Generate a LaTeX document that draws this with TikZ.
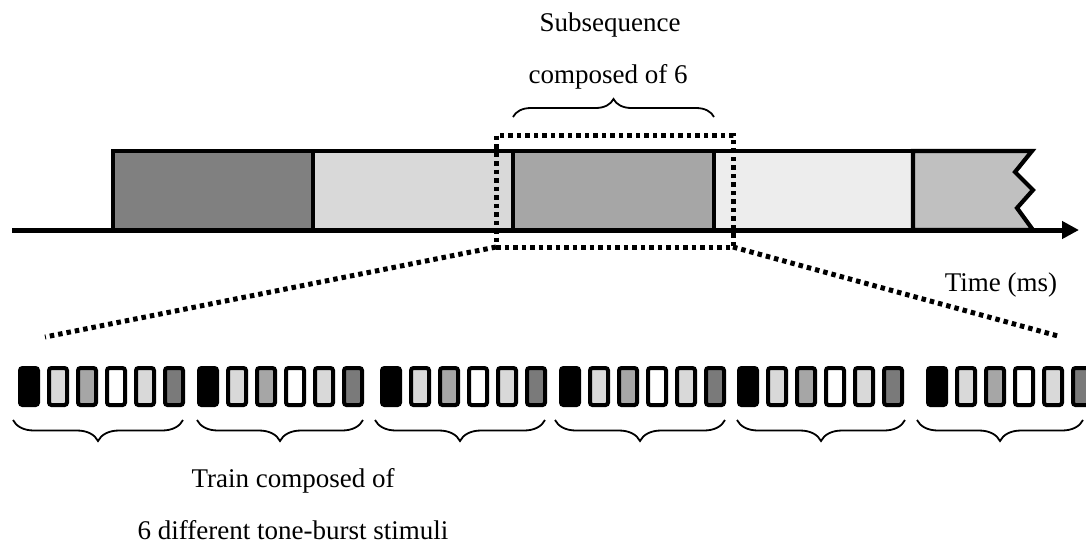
\documentclass[tikz,border=0pt]{standalone}
\usepackage{fontspec}
\setmainfont{Liberation Serif}
\usetikzlibrary{decorations.pathreplacing,arrows.meta}
\definecolor{sA}{HTML}{808080}
\definecolor{sB}{HTML}{D9D9D9}
\definecolor{sC}{HTML}{A6A6A6}
\definecolor{sD}{HTML}{EDEDED}
\definecolor{sE}{HTML}{C0C0C0}
\definecolor{pk}{HTML}{000000}
\definecolor{pl}{HTML}{D9D9D9}
\definecolor{pm}{HTML}{A6A6A6}
\definecolor{pw}{HTML}{FFFFFF}
\definecolor{pd}{HTML}{7A7A7A}
\begin{document}
\begin{tikzpicture}[x=1pt,y=-1pt,
  lbl/.style={font=\fontsize{27}{32}\selectfont, inner sep=0pt},
  dots/.style={line width=5pt, dash pattern=on 4.5pt off 4pt},
  seg/.style={draw, line width=4.2pt, inner sep=0pt, outer sep=0pt, minimum height=79pt},
  pulse/.style={draw, line width=4pt, rounded corners=2.5pt, inner sep=0pt, outer sep=0pt,
    minimum width=18pt, minimum height=37pt},
  brcup/.style={decorate, decoration={brace, amplitude=18pt}, line width=1.8pt},
  brcdn/.style={decorate, decoration={brace, mirror, amplitude=21pt}, line width=1.8pt},
]
\useasboundingbox (0,0) rectangle (1086,547);

% time bar segments
\node[seg, fill=sA, minimum width=200pt] (s1) at (213,190.5) {};
\node[seg, fill=sB, minimum width=200pt] (s2) at (413,190.5) {};
\node[seg, fill=sC, minimum width=201pt] (s3) at (613.5,190.5) {};
\node[seg, fill=sD, minimum width=199pt] (s4) at (813.5,190.5) {};
\draw[line width=4.2pt, fill=sE, line join=miter]
  (s4.north east) -- (1032,151) -- (1015,172) -- (1033,190) -- (1017,208)
  -- (1033,230) -- (s4.south east) -- cycle;

% time axis
\coordinate (t0) at (12,230);
\coordinate (t1) at (1079,230);
\draw[line width=5pt, -{Triangle[length=17pt,width=17pt]}] (t0) -- (t1);

% subsequence highlight
\node[dots, draw, minimum width=237pt, minimum height=112pt, inner sep=0pt, outer sep=0pt] (sub) at (614.5,191) {};
\coordinate (dl) at (45,337);
\coordinate (dr) at (1058,336);
\draw[dots] (sub.south west) -- (dl);
\draw[dots] (sub.south east) -- (dr);

% top brace
\coordinate (ta) at (513,117);
\coordinate (tb) at (714,117);
\draw[brcup] (ta) -- (tb);

% pulses
\foreach \g [count=\k] in {18,197,380,559,737,926} {
  \foreach \c [count=\i from 0] in {pk,pl,pm,pw,pl,pd} {
    \node[pulse, fill=\c] (p\k-\i) at ({\g+11+29*\i},386.5) {};
  }
}

% bottom braces
\foreach \a/\b [count=\k] in {13/183,197/363,375/545,555/725,737/905,917/1083} {
  \coordinate (b\k a) at (\a,420);
  \coordinate (b\k b) at (\b,420);
  \draw[brcdn] (b\k a) -- (b\k b);
}

% labels
\node[lbl] (l1) at (610,25) {Subsequence};
\node[lbl] (l2) at (608,77) {composed of 6};
\node[lbl] (l3) at (1001,285) {Time (ms)};
\node[lbl] (l4) at (293,481) {Train composed of};
\node[lbl] (l5) at (293,530) {6 different tone-burst stimuli};
\end{tikzpicture}
\end{document}
